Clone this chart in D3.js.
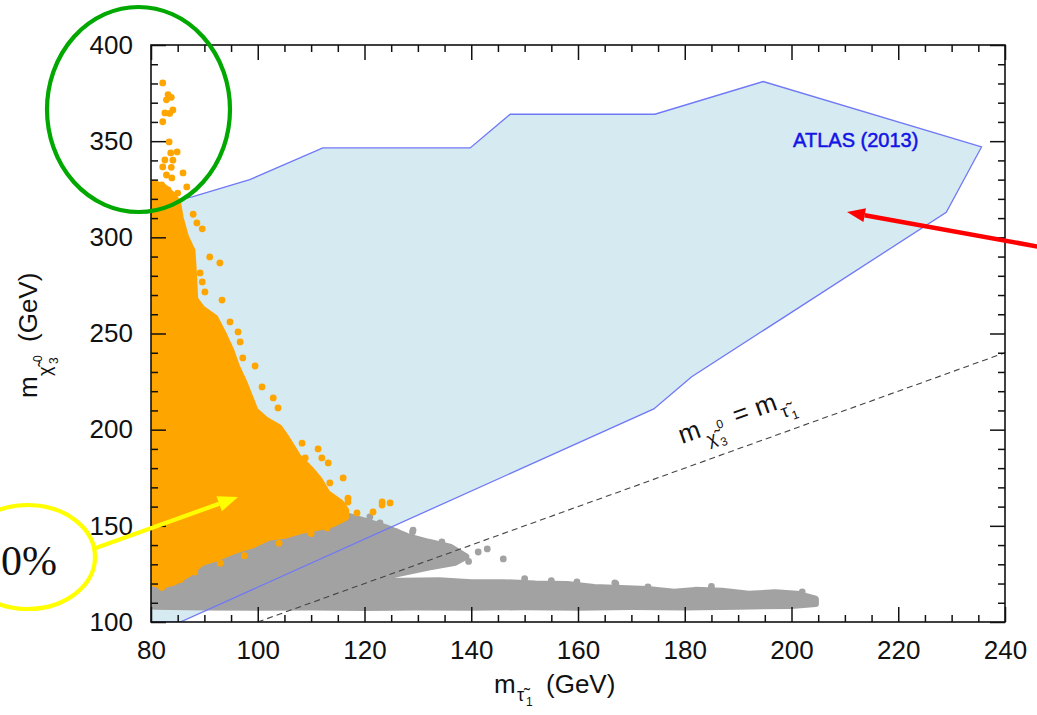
<!DOCTYPE html>
<html>
<head>
<meta charset="utf-8">
<script src="https://cdn.jsdelivr.net/npm/d3@7"></script>
<style>
  body { margin: 0; background: #fff; }
  text { font-family: "Liberation Sans", Arial, Helvetica, sans-serif; fill: #111; }
</style>
</head>
<body>
<svg id="chart" width="1037" height="715"></svg>
<script>
// axis ticks
const xMajor = [80, 100, 120, 140, 160, 180, 200, 220, 240];
const yMajor = [100, 150, 200, 250, 300, 350, 400];

// ATLAS (2013) excluded region, [m_stau, m_chi3]
const atlasRegion = [
  [80, 317], [87.7, 321], [98.5, 330], [112.2, 346.5], [139.8, 346.5], [147.3, 364],
  [174.4, 364], [194.7, 381], [235.6, 347], [229, 313], [200, 261], [181.3, 227.5],
  [174.2, 210.8], [85.5, 100], [80, 100]
];

// m_chi3 = m_stau
const diagonal = [[100, 100], [240, 240]];

// outline of the dense grey cloud (points too packed to read one by one)
const grayCloud = [
  [80.6, 108.2], [90, 107.8], [100, 107.6], [110, 107.8], [120, 107.5], [130, 107.8],
  [140, 107.6], [150, 107.9], [160, 107.6], [170, 108], [180, 107.8], [190, 108.2],
  [200, 108.5], [204.5, 109.5], [204.5, 112], [201, 114.5], [197, 115.2], [192, 114.5],
  [187, 116], [182, 116.5], [178, 115.5], [173, 117], [168, 117.5], [163, 118],
  [158, 119.5], [152, 119.8], [146, 120.5], [140, 120.5], [134, 121.5], [127, 121.3],
  [121, 121.5], [120, 122], [126, 125], [132, 128.5], [137, 131], [139, 134],
  [136, 139], [132, 141.5], [128, 144.5], [124, 149], [120, 152.5], [117, 155],
  [112, 154], [106, 151], [100, 147], [95, 141], [90, 136], [86, 130], [83, 125], [80.6, 122]
];
const grayPoints = [
  [141.3, 136.4], [146, 132.8], [143, 138], [134.5, 141.6], [129.8, 142.6], [129, 146.8],
  [126, 146.8], [122.9, 151.5], [121, 154.6], [139.5, 131.5], [166.9, 120.3], [173.1, 118.2],
  [202, 115.6], [196.5, 115], [159.8, 120.8], [167.1, 119.8], [155, 121.5], [185, 118.5],
  [150, 122.5], [129.1, 147.8], [136.4, 133.8]
];

// outline of the dense orange cloud
const orangeCloud = [
  [80.6, 120], [82, 119], [84.5, 121], [87, 125], [89.5, 131], [92, 133], [95.5, 137],
  [99, 140], [102, 144], [105, 145], [108, 147.5], [111, 149], [114, 151], [116.5, 154.5],
  [116.5, 158], [115.5, 162], [113, 167], [111.5, 174], [110, 179], [107.5, 186],
  [105.5, 195], [104, 201], [101.5, 205], [99.5, 210], [98.5, 217], [97.5, 224],
  [96, 233], [95, 241], [93.5, 250], [92, 258], [89.5, 263], [88.2, 268], [88, 280],
  [87.7, 293], [86.5, 300], [85.5, 310], [85, 318], [84, 322], [82.5, 326], [80.6, 328]
];
const orangePoints = [
  [82.2, 380.3], [83.2, 374.2], [83.8, 372.8], [82.9, 371.5], [84.1, 366.2], [82.6, 364.7],
  [83.5, 364.4], [82.2, 360.1], [83.4, 349.6], [83.7, 343.9], [84.9, 344.4], [82.6, 340.2],
  [84.1, 340.1], [82.2, 336.6], [83.8, 336.4], [86.0, 333.5], [82.9, 332.4], [83.9, 330.9],
  [82.0, 327.2], [86.7, 326.2], [83.2, 324.6], [85.0, 323.0], [87.9, 312.0], [88.6, 307.5],
  [89.6, 304.4], [91.0, 289.8], [92.9, 286.7], [89.2, 281.5], [89.6, 276.8], [90.1, 271.6],
  [93.3, 267.4], [94.8, 256.0], [96.3, 250.8], [96.7, 245.6], [97.2, 237.3], [99.5, 233.1],
  [100.8, 222.2], [102.9, 216.5], [103.8, 211.3], [108.3, 193.0], [111.3, 190.0], [112.0, 185.3],
  [113.2, 182.7], [107.0, 185.8], [108.9, 185.3], [116.0, 174.9], [113.5, 172.3], [116.9, 162.4],
  [116.9, 164.4], [118.6, 156.7], [121.6, 157.2], [123.3, 160.8], [124.8, 161.9], [123.3, 162.4],
  [111.3, 151.5], [113.0, 148.9], [83.6, 120.8], [82.0, 118.0], [85.5, 122.0], [88.2, 126.0],
  [93.0, 130.5], [97.5, 134.5], [104.0, 141.0], [110.0, 146.0]
];

const plot = { left: 151, right: 1005, top: 45, bottom: 622 };
const ptR = 3.4;

const svg = d3.select('#chart');

const x = d3.scaleLinear().domain([80, 240]).range([plot.left, plot.right]);
const y = d3.scaleLinear().domain([100, 400]).range([plot.bottom, plot.top]);

svg.append('defs').append('clipPath').attr('id', 'clip')
  .append('rect')
  .attr('x', plot.left).attr('y', plot.top)
  .attr('width', plot.right - plot.left).attr('height', plot.bottom - plot.top);

const line = d3.line().x(d => x(d[0])).y(d => y(d[1]));
const closed = d3.line().x(d => x(d[0])).y(d => y(d[1])).curve(d3.curveLinearClosed);

const g = svg.append('g').attr('clip-path', 'url(#clip)');

// excluded region fill
g.append('path').attr('d', closed(atlasRegion)).attr('fill', '#d6eaf1');

// grey points
g.append('path').attr('d', closed(grayCloud))
  .attr('fill', '#a2a2a2').attr('stroke', '#a2a2a2')
  .attr('stroke-width', ptR * 2).attr('stroke-linejoin', 'round');
g.selectAll('.gp').data(grayPoints).join('circle').attr('class', 'gp')
  .attr('cx', d => x(d[0])).attr('cy', d => y(d[1])).attr('r', ptR).attr('fill', '#a2a2a2');

// diagonal
g.append('path').attr('d', line(diagonal))
  .attr('fill', 'none').attr('stroke', '#444').attr('stroke-width', 1.1)
  .attr('stroke-dasharray', '6,4');

// excluded region outline
g.append('path').attr('d', closed(atlasRegion))
  .attr('fill', 'none').attr('stroke', '#6f78f6').attr('stroke-width', 1.3);

// orange points
g.append('path').attr('d', closed(orangeCloud))
  .attr('fill', '#ffa500').attr('stroke', '#ffa500')
  .attr('stroke-width', ptR * 2).attr('stroke-linejoin', 'round');
g.selectAll('.op').data(orangePoints).join('circle').attr('class', 'op')
  .attr('cx', d => x(d[0])).attr('cy', d => y(d[1])).attr('r', ptR).attr('fill', '#ffa500');

// axes: major + minor ticks pointing inward on all four sides
const xMinor = d3.range(80, 241, 5).filter(v => !xMajor.includes(v));
const yMinor = d3.range(100, 401, 10).filter(v => !yMajor.includes(v));

function axisLayer(axis, tx, ty) {
  const a = svg.append('g').attr('transform', `translate(${tx},${ty})`).call(axis);
  a.select('.domain').remove();
  a.selectAll('line').attr('stroke', '#111').attr('stroke-width', 1.5);
  return a;
}

const bx = axisLayer(d3.axisBottom(x).tickValues(xMajor).tickSize(-15).tickPadding(19).tickFormat(d3.format('d')), 0, plot.bottom);
bx.selectAll('text').attr('font-size', 26).attr('fill', '#111');
axisLayer(d3.axisBottom(x).tickValues(xMinor).tickSize(-7).tickFormat(''), 0, plot.bottom);
axisLayer(d3.axisTop(x).tickValues(xMajor).tickSize(-15).tickFormat(''), 0, plot.top);
axisLayer(d3.axisTop(x).tickValues(xMinor).tickSize(-7).tickFormat(''), 0, plot.top);

const ly = axisLayer(d3.axisLeft(y).tickValues(yMajor).tickSize(-15).tickPadding(18), plot.left, 0);
ly.selectAll('text').attr('font-size', 26).attr('fill', '#111');
axisLayer(d3.axisLeft(y).tickValues(yMinor).tickSize(-7).tickFormat(''), plot.left, 0);
axisLayer(d3.axisRight(y).tickValues(yMajor).tickSize(-15).tickFormat(''), plot.right, 0);
axisLayer(d3.axisRight(y).tickValues(yMinor).tickSize(-7).tickFormat(''), plot.right, 0);

svg.append('rect')
  .attr('x', plot.left).attr('y', plot.top)
  .attr('width', plot.right - plot.left).attr('height', plot.bottom - plot.top)
  .attr('fill', 'none').attr('stroke', '#111').attr('stroke-width', 1.6);

// labels built from pieces: [text, dx, dy, size]
function label(parent, pieces) {
  pieces.forEach(p => {
    parent.append('text').attr('x', p[1]).attr('y', p[2]).attr('font-size', p[3]).text(p[0]);
  });
}

// x title
const xt = svg.append('g').attr('transform', 'translate(494,693)');
label(xt, [['m', 0, 0, 26], ['τ\u0303', 23, 8, 18], ['1', 32, 13, 12], ['(GeV)', 52, 0, 26]]);

// y title
const yt = svg.append('g').attr('transform', 'translate(37,398) rotate(-90)');
label(yt, [['m', 0, 0, 26], ['χ\u0303', 22, 14, 18], ['0', 36, 5, 12], ['3', 34, 21, 12], ['(GeV)', 56, 0, 26]]);

// diagonal label, same slope as the dashed line
const ang = Math.atan2(y(240) - y(100), x(240) - x(100)) * 180 / Math.PI;
const dl = svg.append('g').attr('transform', `translate(682,444) rotate(${ang})`);
label(dl, [['m', 0, 0, 26], ['χ\u0303', 25, 11, 18], ['0', 39, -2, 12], ['3', 37, 16, 12],
  ['=', 58, 0, 26], ['m', 81, 0, 26], ['τ\u0303', 104, 10, 18], ['1', 113, 15, 12]]);

// ATLAS tag
svg.append('text').attr('x', x(200.3)).attr('y', y(347)).attr('font-size', 20)
  .style('fill', '#1414e6').attr('stroke', '#1414e6').attr('stroke-width', 0.5)
  .text('ATLAS (2013)');

// overlay annotations (pixel space)
svg.append('ellipse').attr('cx', 138.5).attr('cy', 109.5).attr('rx', 91.5).attr('ry', 102.5)
  .attr('fill', 'none').attr('stroke', '#00a800').attr('stroke-width', 4.2);

svg.append('ellipse').attr('cx', 28).attr('cy', 557).attr('rx', 67).attr('ry', 52)
  .attr('fill', 'none').attr('stroke', '#ffff00').attr('stroke-width', 4.2);
svg.append('text').attr('x', 1).attr('y', 575)
  .attr('font-size', 42).style('font-family', '"Liberation Serif", "DejaVu Serif", serif')
  .text('0%');

function arrow(x1, y1, x2, y2, color, w, hl, hw) {
  const a = Math.atan2(y2 - y1, x2 - x1);
  const bx = x2 - hl * Math.cos(a), by = y2 - hl * Math.sin(a);
  svg.append('line').attr('x1', x1).attr('y1', y1).attr('x2', bx).attr('y2', by)
    .attr('stroke', color).attr('stroke-width', w);
  const px = -Math.sin(a) * hw / 2, py = Math.cos(a) * hw / 2;
  svg.append('path')
    .attr('d', `M${x2},${y2}L${bx + px},${by + py}L${bx - px},${by - py}Z`)
    .attr('fill', color);
}
arrow(93, 549, 238, 497, '#ffff00', 4.2, 20, 16);
arrow(1040, 247, 847, 212, '#ff0000', 4.5, 18, 14);
</script>
</body>
</html>
